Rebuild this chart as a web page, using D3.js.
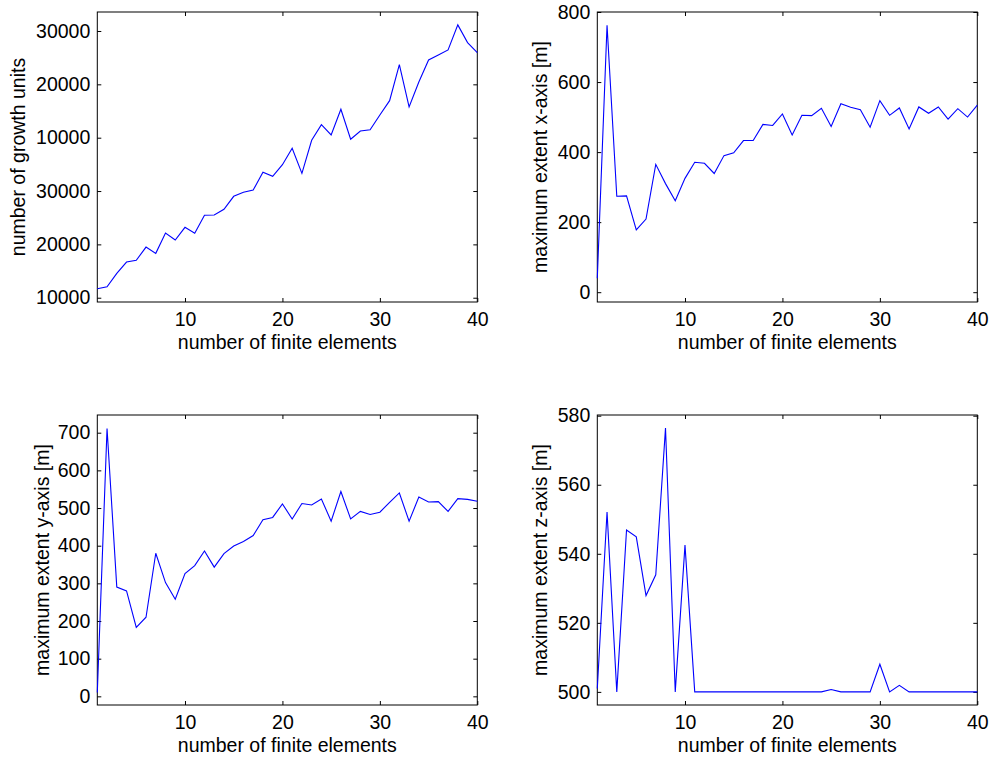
<!DOCTYPE html>
<html>
<head>
<meta charset="utf-8">
<script src="https://cdn.jsdelivr.net/npm/d3@7"></script>
<style>
    body { margin: 0; background: #fff; }
    svg { display: block; }
    text { font-family: "Liberation Sans", Arial, sans-serif; fill: #000; }
    .tick text { font-size: 19.5px; }
    .tick line { stroke: #000; }
    .label { font-size: 19.5px; }
</style>
</head>
<body>
<svg width="991" height="760"></svg>
<script>
// values, one entry per number of finite elements
var elements = [1, 2, 3, 4, 5, 6, 7, 8, 9, 10, 11, 12, 13, 14, 15, 16, 17, 18, 19, 20,
    21, 22, 23, 24, 25, 26, 27, 28, 29, 30, 31, 32, 33, 34, 35, 36, 37, 38, 39, 40];

var growthUnits = [11690, 12060, 14570, 16690, 17010, 19500, 18320, 22130, 20820, 23200,
    22070, 25450, 25500, 26570, 29010, 29760, 30190, 33510, 32760, 34940,
    38010, 33320, 39510, 42440, 40510, 45330, 39700, 41260, 41500, 44260,
    46940, 53690, 45760, 50450, 54570, 55510, 56450, 61140, 57820, 55940];

var extentX = [40, 762, 274, 275, 178, 209, 365, 310, 261, 325,
    371, 368, 339, 390, 398, 433, 433, 479, 476, 509,
    449, 505, 504, 525, 473, 538, 528, 521, 471, 547,
    505, 526, 466, 529, 511, 529, 494, 524, 500, 534];

var extentY = [10, 711, 290, 280, 183, 210, 380, 302, 258, 326,
    347, 386, 343, 379, 399, 411, 427, 469, 475, 511,
    471, 512, 508, 524, 465, 544, 471, 491, 483, 489,
    515, 540, 465, 529, 516, 517, 491, 525, 523, 518];

var extentZ = [501, 552.1, 500, 546.9, 544.9, 527.9, 533.9, 576.4, 500, 542.5,
    500, 500, 500, 500, 500, 500, 500, 500, 500, 500,
    500, 500, 500, 500, 500.7, 500, 500, 500, 500, 508,
    500, 501.9, 500, 500, 500, 500, 500, 500, 500, 500];

var xTicks = [10, 20, 30, 40];

// the first panel repeats its labels, as in the original figure
var growthTicks = [10000, 20000, 30000, 40000, 50000, 60000];
var growthTickLabels = ["10000", "20000", "30000", "10000", "20000", "30000"];
var extentXTicks = [0, 200, 400, 600, 800];
var extentYTicks = [0, 100, 200, 300, 400, 500, 600, 700];
var extentZTicks = [500, 520, 540, 560, 580];

d3.select(window).on('load', init);

function init() {
    var svg = d3.select('svg');
    var width = 380, height = 290;

    var panels = [
        {left: 97.3, top: 12, values: growthUnits, domain: [9200, 63560],
         ticks: growthTicks, labels: growthTickLabels,
         title: "number of growth units", labelX: -72},
        {left: 597.3, top: 12, values: extentX, domain: [-28, 800],
         ticks: extentXTicks, title: "maximum extent x-axis [m]", labelX: -50},
        {left: 97.3, top: 415, values: extentY, domain: [-23, 747],
         ticks: extentYTicks, title: "maximum extent y-axis [m]", labelX: -48},
        {left: 597.3, top: 415, values: extentZ, domain: [496.2, 580.2],
         ticks: extentZTicks, title: "maximum extent z-axis [m]", labelX: -50}
    ];

    var x = d3.scaleLinear().domain([1, 40]).range([0, width]);

    panels.forEach(function(p) {
        var g = svg.append("g")
            .attr("transform", "translate(" + p.left + "," + p.top + ")");

        var y = d3.scaleLinear().domain(p.domain).range([height, 0]);

        var yFormat = p.labels
            ? function(d, i) { return p.labels[i]; }
            : function(d) { return d; };

        g.append("g")
            .attr("class", "axis x")
            .attr("transform", "translate(0," + height + ")")
            .call(d3.axisBottom(x).tickValues(xTicks).tickSize(-4).tickPadding(10));

        g.append("g")
            .attr("class", "axis x2")
            .call(d3.axisTop(x).tickValues(xTicks).tickSize(-4).tickFormat(""));

        g.append("g")
            .attr("class", "axis y")
            .call(d3.axisLeft(y).tickValues(p.ticks).tickSize(-4).tickPadding(7).tickFormat(yFormat));

        g.append("g")
            .attr("class", "axis y2")
            .attr("transform", "translate(" + width + ",0)")
            .call(d3.axisRight(y).tickValues(p.ticks).tickSize(-4).tickFormat(""));

        g.selectAll(".domain").remove();

        g.append("rect")
            .attr("width", width)
            .attr("height", height)
            .attr("fill", "none")
            .attr("stroke", "#000")
            .attr("stroke-width", 1);

        var line = d3.line()
            .x(function(d, i) { return x(elements[i]); })
            .y(function(d) { return y(d); });

        g.append("path")
            .datum(p.values)
            .attr("fill", "none")
            .attr("stroke", "#0000ff")
            .attr("stroke-width", 1.1)
            .attr("d", line);

        g.append("text")
            .attr("class", "label")
            .attr("text-anchor", "middle")
            .attr("x", width / 2)
            .attr("y", height + 47)
            .text("number of finite elements");

        g.append("text")
            .attr("class", "label")
            .attr("text-anchor", "middle")
            .attr("transform", "translate(" + p.labelX + "," + (height / 2) + ") rotate(-90)")
            .text(p.title);
    });
}
</script>
</body>
</html>
